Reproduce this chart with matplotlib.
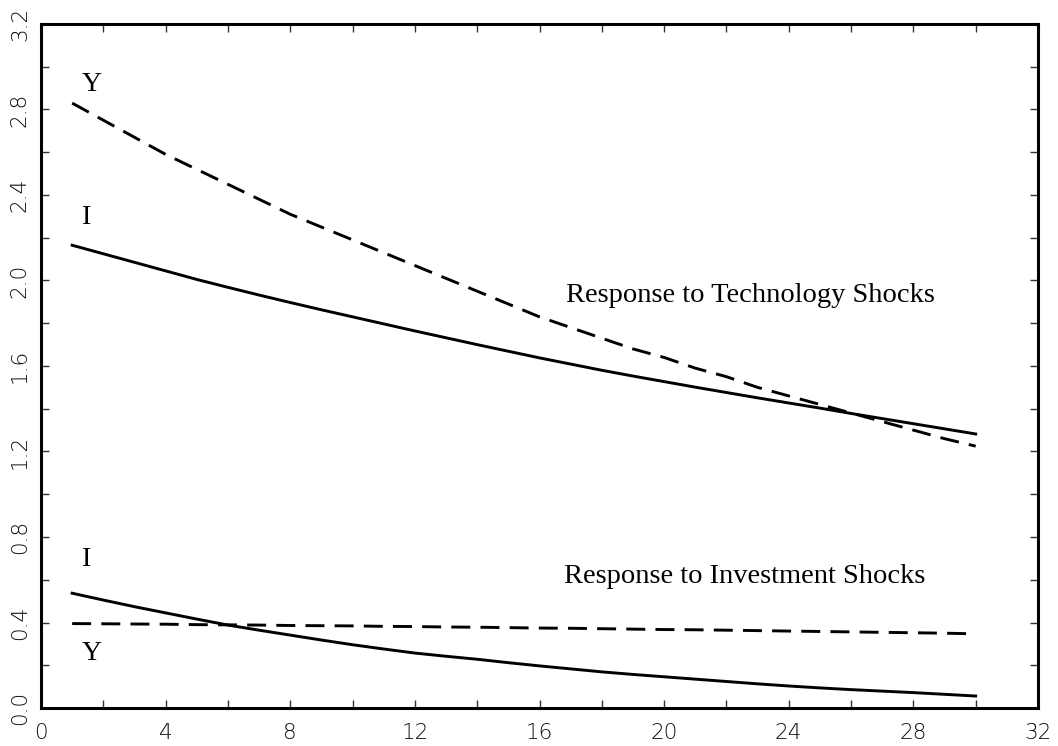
import matplotlib
matplotlib.use("Agg")
import matplotlib.pyplot as plt
from matplotlib.ticker import MultipleLocator, FormatStrFormatter

# Impulse-response horizon (quarters)
periods = list(range(1, 31))

# Response to technology shocks
tech_output = [2.83, 2.75, 2.67, 2.59, 2.52, 2.45, 2.38, 2.31, 2.25, 2.19,
               2.13, 2.07, 2.01, 1.95, 1.89, 1.83, 1.78, 1.73, 1.68, 1.64,
               1.59, 1.55, 1.50, 1.46, 1.42, 1.38, 1.34, 1.30, 1.26, 1.225]
tech_invest = [2.165, 2.125, 2.085, 2.045, 2.005, 1.968, 1.932, 1.897, 1.863, 1.830,
               1.797, 1.764, 1.732, 1.700, 1.669, 1.638, 1.609, 1.580, 1.553, 1.527,
               1.501, 1.476, 1.451, 1.427, 1.403, 1.378, 1.354, 1.330, 1.306, 1.282]

# Response to investment shocks
inv_output = [0.395, 0.394, 0.393, 0.392, 0.390, 0.389, 0.388, 0.386, 0.385, 0.384,
              0.382, 0.381, 0.379, 0.378, 0.376, 0.374, 0.373, 0.371, 0.369, 0.367,
              0.366, 0.364, 0.362, 0.360, 0.358, 0.356, 0.354, 0.352, 0.350, 0.347]
inv_invest = [0.537, 0.505, 0.474, 0.445, 0.416, 0.388, 0.364, 0.341, 0.318, 0.296,
              0.276, 0.257, 0.242, 0.228, 0.212, 0.197, 0.183, 0.169, 0.157, 0.146,
              0.135, 0.124, 0.113, 0.103, 0.094, 0.086, 0.079, 0.072, 0.064, 0.056]

fig = plt.figure(figsize=(10.58, 7.46), dpi=100)
ax = fig.add_axes([41 / 1058, 1 - 708 / 746, 997 / 1058, 684 / 746])

lw = 2.1
dash = (6.5, 3.5)
ax.plot(periods, tech_output, color="black", lw=lw, dashes=dash)
ax.plot(periods, tech_invest, color="black", lw=lw)
ax.plot(periods, inv_output, color="black", lw=lw, dashes=dash)
ax.plot(periods, inv_invest, color="black", lw=lw)

ax.set_xlim(0, 32)
ax.set_ylim(0, 3.2)

ax.xaxis.set_major_locator(MultipleLocator(4))
ax.xaxis.set_minor_locator(MultipleLocator(2))
ax.yaxis.set_major_locator(MultipleLocator(0.4))
ax.yaxis.set_minor_locator(MultipleLocator(0.2))
ax.xaxis.set_major_formatter(FormatStrFormatter("%d"))
ax.yaxis.set_major_formatter(FormatStrFormatter("%.1f"))

for which in ("major", "minor"):
    ax.tick_params(axis="both", which=which, direction="in", length=5.5, width=1.0,
                   color="#333333", top=True, right=True)
ax.tick_params(axis="x", which="major", pad=11, labelsize=15.5, labelcolor="#111111")
ax.tick_params(axis="y", which="major", pad=8, labelsize=15.5, labelcolor="#111111",
               labelrotation=90)
for lab in ax.get_xticklabels() + ax.get_yticklabels():
    lab.set_family("DejaVu Sans")
    lab.set_fontweight("light")
for lab in ax.get_yticklabels():
    lab.set_va("center")

for sp in ax.spines.values():
    sp.set_linewidth(2.2)

serif = dict(family="Liberation Serif", fontsize=20, color="black", va="center", ha="left")
ax.text(1.3, 2.915, "Y", **serif)
ax.text(1.3, 2.297, "I", **serif)
ax.text(1.3, 0.697, "I", **serif)
ax.text(1.3, 0.253, "Y", **serif)

caption = dict(family="Liberation Serif", fontsize=20.5, color="black", va="center", ha="left")
ax.text(16.85, 1.93, "Response to Technology Shocks", **caption)
ax.text(16.8, 0.613, "Response to Investment Shocks", **caption)

fig.savefig("out.png", dpi=100)
